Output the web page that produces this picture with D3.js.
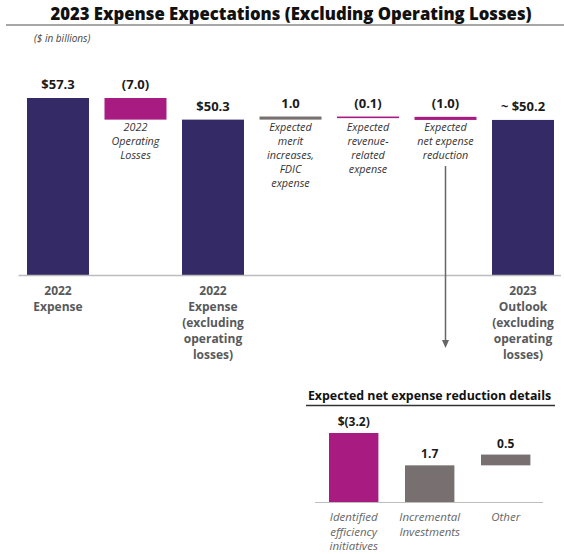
<!DOCTYPE html>
<html>
<head>
<meta charset="utf-8">
<script src="https://cdn.jsdelivr.net/npm/d3@7"></script>
<style>
  body { margin: 0; background: #fff; }
  svg { display: block; font-family: "Open Sans", sans-serif; }
</style>
</head>
<body>
<div id="chart"></div>
<script>
'use strict';

// main waterfall
var steps = ["2022 Expense", "2022 Operating Losses", "2022 Expense excl", "Merit FDIC", "Revenue related", "Net reduction", "2023 Outlook"];
var stepKinds = ["total", "delta", "total", "delta", "delta", "delta", "total"];
var stepValues = [57.3, -7.0, 50.3, 1.0, -0.1, -1.0, 50.2];
var stepLabels = ["$57.3", "(7.0)", "$50.3", "1.0", "(0.1)", "(1.0)", "~ $50.2"];
var innerText = [
  [], ["2022", "Operating", "Losses"], [],
  ["Expected", "merit", "increases,", "FDIC", "expense"],
  ["Expected", "revenue-", "related", "expense"],
  ["Expected", "net expense", "reduction"], []
];
var bottomText = [
  ["2022", "Expense"], [], ["2022", "Expense", "(excluding", "operating", "losses)"],
  [], [], [], ["2023", "Outlook", "(excluding", "operating", "losses)"]
];

// inset: net expense reduction details
var detailCats = ["Identified efficiency initiatives", "Incremental Investments", "Other"];
var detailValues = [3.2, 1.7, 0.5];
var detailStacked = [false, false, true];
var detailLabels = ["$(3.2)", "1.7", "0.5"];
var detailText = [["Identified", "efficiency", "initiatives"], ["Incremental", "Investments"], ["Other"]];

var navy = "#342b66";
var magenta = "#a81c82";
var grey = "#787070";

var W = 564, H = 554;
var svg = d3.select("#chart").append("svg")
  .attr("width", W)
  .attr("height", H);

// title
svg.append("text")
  .attr("x", 291).attr("y", 19.5)
  .attr("text-anchor", "middle")
  .attr("font-size", 16.7).attr("font-weight", 800)
  .attr("fill", "#111")
  .text("2023 Expense Expectations (Excluding Operating Losses)");
svg.append("line")
  .attr("x1", 6).attr("x2", W).attr("y1", 25).attr("y2", 25)
  .attr("stroke", "#8a8a8a").attr("stroke-width", 1.5);
svg.append("text")
  .attr("x", 34).attr("y", 41.5)
  .attr("font-size", 10).attr("font-style", "italic")
  .attr("fill", "#444")
  .text("($ in billions)");

// compute waterfall segments
var running = 0;
var segs = steps.map(function (s, i) {
  var d = {i: i, kind: stepKinds[i], v: stepValues[i], label: stepLabels[i]};
  if (d.kind == "total") {
    d.y0 = 0; d.y1 = d.v; running = d.v;
  } else {
    d.y0 = running; d.y1 = running + d.v; running = d.y1;
  }
  d.color = d.kind == "total" ? navy : (d.v < 0 ? magenta : grey);
  return d;
});

var x = d3.scaleBand().domain(d3.range(steps.length))
  .range([19.25, 561.75]).paddingInner(0.2).paddingOuter(0.1);
var y = d3.scaleLinear().domain([0, 57.3]).range([275, 98]);

var g = svg.append("g");

g.selectAll("rect.step")
  .data(segs).enter().append("rect")
  .attr("class", "step")
  .attr("x", function (d) { return x(d.i); })
  .attr("width", x.bandwidth())
  .attr("y", function (d) { return y(Math.max(d.y0, d.y1)); })
  .attr("height", function (d) { return Math.max(1.6, Math.abs(y(d.y0) - y(d.y1))); })
  .attr("fill", function (d) { return d.color; });

g.append("line")
  .attr("x1", 18.5).attr("x2", 561).attr("y1", 275.5).attr("y2", 275.5)
  .attr("stroke", "#bdbdbd").attr("stroke-width", 1.5);

g.selectAll("text.val")
  .data(segs).enter().append("text")
  .attr("class", "val")
  .attr("x", function (d) { return x(d.i) + x.bandwidth() / 2; })
  .attr("y", function (d) { return y(Math.max(d.y0, d.y1)) - 9; })
  .attr("text-anchor", "middle")
  .attr("font-size", 13).attr("font-weight", 700)
  .attr("fill", "#1a1a1a")
  .text(function (d) { return d.label; });

// italic notes under the floating bars
segs.forEach(function (d) {
  var lines = innerText[d.i];
  if (!lines.length) return;
  var t = g.append("text")
    .attr("text-anchor", "middle")
    .attr("font-size", 10.8).attr("font-style", "italic")
    .attr("fill", "#333");
  lines.forEach(function (l, k) {
    t.append("tspan")
      .attr("x", x(d.i) + x.bandwidth() / 2)
      .attr("y", y(50.3) + 11 + k * 14)
      .text(l);
  });
});

// bold labels under the axis
segs.forEach(function (d) {
  var lines = bottomText[d.i];
  if (!lines.length) return;
  var t = g.append("text")
    .attr("text-anchor", "middle")
    .attr("font-size", 12).attr("font-weight", 700)
    .attr("fill", "#58595b");
  lines.forEach(function (l, k) {
    t.append("tspan")
      .attr("x", x(d.i) + x.bandwidth() / 2)
      .attr("y", 294.5 + k * 16.2)
      .text(l);
  });
});

// arrow from net expense reduction to the detail panel
var ax = x(5) + x.bandwidth() / 2;
svg.append("line")
  .attr("x1", ax).attr("x2", ax).attr("y1", 166).attr("y2", 341)
  .attr("stroke", "#666").attr("stroke-width", 1.5);
svg.append("path")
  .attr("d", "M" + (ax - 3.5) + ",340 L" + (ax + 3.5) + ",340 L" + ax + ",348 Z")
  .attr("fill", "#666");

// detail panel
svg.append("text")
  .attr("x", 429.5).attr("y", 400)
  .attr("text-anchor", "middle")
  .attr("font-size", 12.4).attr("font-weight", 700)
  .attr("fill", "#111")
  .text("Expected net expense reduction details");
svg.append("line")
  .attr("x1", 306).attr("x2", 555).attr("y1", 405.5).attr("y2", 405.5)
  .attr("stroke", "#333").attr("stroke-width", 1.5);

var base = 0;
var dsegs = detailCats.map(function (c, i) {
  var d = {i: i, v: detailValues[i], label: detailLabels[i]};
  d.y0 = detailStacked[i] ? base : 0;
  d.y1 = d.y0 + d.v;
  base = d.y1;
  d.color = i == 0 ? magenta : grey;
  return d;
});

var xi = d3.scaleBand().domain(d3.range(detailCats.length))
  .range([315.7, 543.7]).paddingInner(0.35).paddingOuter(0.175);
var yi = d3.scaleLinear().domain([0, 3.2]).range([502, 433]);

var gi = svg.append("g");
gi.selectAll("rect")
  .data(dsegs).enter().append("rect")
  .attr("x", function (d) { return xi(d.i); })
  .attr("width", xi.bandwidth())
  .attr("y", function (d) { return yi(d.y1); })
  .attr("height", function (d) { return yi(d.y0) - yi(d.y1); })
  .attr("fill", function (d) { return d.color; });

gi.append("line")
  .attr("x1", 315).attr("x2", 543).attr("y1", 502.5).attr("y2", 502.5)
  .attr("stroke", "#bdbdbd").attr("stroke-width", 1.2);

gi.selectAll("text.val")
  .data(dsegs).enter().append("text")
  .attr("class", "val")
  .attr("x", function (d) { return xi(d.i) + xi.bandwidth() / 2; })
  .attr("y", function (d) { return yi(d.y1) - 7; })
  .attr("text-anchor", "middle")
  .attr("font-size", 12).attr("font-weight", 700)
  .attr("fill", "#1a1a1a")
  .text(function (d) { return d.label; });

dsegs.forEach(function (d) {
  var t = gi.append("text")
    .attr("text-anchor", "middle")
    .attr("font-size", 11.5).attr("font-style", "italic")
    .attr("fill", "#666");
  detailText[d.i].forEach(function (l, k) {
    t.append("tspan")
      .attr("x", xi(d.i) + xi.bandwidth() / 2)
      .attr("y", 521 + k * 14.7)
      .text(l);
  });
});
</script>
</body>
</html>
